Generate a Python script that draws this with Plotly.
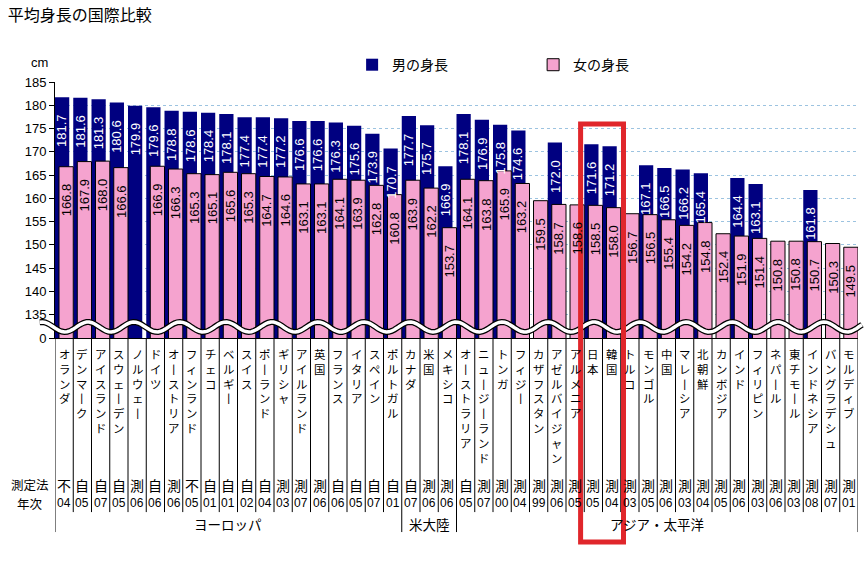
import numpy as np
import plotly.graph_objects as go

# data
countries = ["オランダ", "デンマーク", "アイスランド", "スウェーデン", "ノルウェー", "ドイツ",
             "オーストリア", "フィンランド", "チェコ", "ベルギー", "スイス", "ポーランド",
             "ギリシャ", "アイルランド", "英国", "フランス", "イタリア", "スペイン", "ポルトガル",
             "カナダ", "米国", "メキシコ",
             "オーストラリア", "ニュージーランド", "トンガ", "フィジー", "カザフスタン",
             "アゼルバイジャン", "アルメニア", "日本", "韓国", "トルコ", "モンゴル", "中国",
             "マレーシア", "北朝鮮", "カンボジア", "インド", "フィリピン", "ネパール",
             "東チモール", "インドネシア", "バングラデシュ", "モルディブ"]
male = [181.7, 181.6, 181.3, 180.6, 179.9, 179.6, 178.8, 178.6, 178.4, 178.1, 177.4, 177.4,
        177.2, 176.6, 176.6, 176.3, 175.6, 173.9, 170.7,
        177.7, 175.7, 166.9,
        178.1, 176.9, 175.8, 174.6, None, 172.0, None, 171.6, 171.2, None, 167.1, 166.5,
        166.2, 165.4, None, 164.4, 163.1, None, None, 161.8, None, None]
female = [166.8, 167.9, 168.0, 166.6, None, 166.9, 166.3, 165.3, 165.1, 165.6, 165.3, 164.7,
          164.6, 163.1, 163.1, 164.1, 163.9, 162.8, 160.8,
          163.9, 162.2, 153.7,
          164.1, 163.8, 165.9, 163.2, 159.5, 158.7, 158.6, 158.5, 158.0, 156.7, 156.5, 155.4,
          154.2, 154.8, 152.4, 151.9, 151.4, 150.8, 150.8, 150.7, 150.3, 149.5]
method = ["不", "自", "自", "自", "測", "自", "測", "不", "自", "自", "自", "自",
          "測", "測", "測", "自", "自", "自", "自",
          "自", "測", "測",
          "自", "測", "測", "測", "測", "測", "測", "測", "測", "測", "測", "測",
          "測", "測", "測", "測", "測", "測", "測", "測", "測", "測"]
years = ["04", "05", "07", "05", "06", "06", "06", "05", "01", "01", "02", "04",
         "03", "07", "06", "06", "05", "07", "01",
         "07", "06", "06",
         "05", "07", "00", "04", "99", "06", "05", "05", "04", "03", "05", "06",
         "03", "04", "05", "06", "03", "06", "03", "08", "07", "01"]
region_names = ["ヨーロッパ", "米大陸", "アジア・太平洋"]
region_sizes = [19, 3, 22]
tick_vals = [130, 135, 140, 145, 150, 155, 160, 165, 170, 175, 180, 185]
tick_text = ["0", "135", "140", "145", "150", "155", "160", "165", "170", "175", "180", "185"]
highlight = ["日本", "韓国"]

NAVY = "#000080"
PINK = "#F5A3CF"
NUMFONT = "Liberation Sans, Arial, sans-serif"
JPFONT = "Noto Sans CJK JP, sans-serif"

fig = go.Figure()

fig.add_trace(go.Bar(
    x=countries, y=male, name="男の身長",
    marker=dict(color=NAVY, line=dict(width=0)),
    width=0.78, offset=-0.5,
))
fig.add_trace(go.Bar(
    x=countries, y=female, name="女の身長",
    marker=dict(color=PINK, line=dict(width=1, color="black")),
    width=0.78, offset=-0.28,
))

# value labels, rotated, a little under each bar top
for vals, colour, shift in [(male, "white", -2), (female, "black", 2)]:
    for c, v in zip(countries, vals):
        if v is None:
            continue
        fig.add_annotation(x=c, y=v, xref="x", yref="y", text=f"{v:.1f}", textangle=-90,
                           showarrow=False, xanchor="center", yanchor="top",
                           xshift=shift, yshift=-15,
                           font=dict(family=NUMFONT, size=13, color=colour))

n = len(countries)

# vertical category labels + table rows under the axis
def vertical(s):
    return "<br>".join("丨" if ch == "ー" else ch for ch in s)

def note(x, y, text, size, family=JPFONT, xref="x", yanchor="middle"):
    fig.add_annotation(x=x, y=y, xref=xref, yref="paper", text=text, showarrow=False,
                       xanchor="center", yanchor=yanchor,
                       font=dict(family=family, size=size, color="black"))

for i, c in enumerate(countries):
    note(i, -0.022, vertical(c), 11.4, yanchor="top")
    note(i, -0.574, method[i], 14)
    note(i, -0.645, years[i], 12, family=NUMFONT)

note(-0.031, -0.574, "測定法", 12.5, xref="paper")
note(-0.031, -0.645, "年次", 12.5, xref="paper")

# table dividers
bounds = np.cumsum([0] + region_sizes)
for i in range(n + 1):
    long_line = i in bounds
    fig.add_shape(type="line", xref="x", yref="paper", x0=i - 0.5, x1=i - 0.5,
                  y0=0, y1=-0.758 if long_line else -0.68,
                  line=dict(color="black", width=1))

for name, a, b in zip(region_names, bounds[:-1], bounds[1:]):
    note((a + b - 1) / 2, -0.727, name, 13.5)

# axis break wave
xs = np.linspace(-0.019, 1.005, 300)
ys = 0.043 + 0.0195 * np.cos(2 * np.pi * (xs - 0.041) / 0.0573)
path = "M " + " L ".join(f"{x:.4f},{y:.4f}" for x, y in zip(xs, ys))
fig.add_shape(type="path", path=path, xref="paper", yref="paper",
              line=dict(color="black", width=6))
fig.add_shape(type="path", path=path, xref="paper", yref="paper",
              line=dict(color="white", width=3.5))

# highlight box
hi = [countries.index(h) for h in highlight]
fig.add_shape(type="rect", xref="x", yref="paper",
              x0=min(hi) - 0.7, x1=max(hi) + 0.65, y0=-0.797, y1=0.836,
              line=dict(color="#E0262B", width=5))

note(-0.019, 1.078, "cm", 13, family=NUMFONT, xref="paper")

fig.update_layout(
    width=867, height=563,
    margin=dict(l=55, r=9, t=82, b=225),
    title=dict(text="平均身長の国際比較", x=0.009, xanchor="left", y=0.973, yanchor="middle",
               font=dict(family=JPFONT, size=16, color="black")),
    barmode="overlay",
    plot_bgcolor="white", paper_bgcolor="white",
    showlegend=True,
    legend=dict(orientation="h", x=0.37, y=1.066, xanchor="left", yanchor="middle",
                entrywidth=136, entrywidthmode="pixels",
                font=dict(family=JPFONT, size=14, color="black")),
    xaxis=dict(range=[-0.5, n - 0.5], showticklabels=False, showgrid=False,
               showline=True, linecolor="black", linewidth=1, ticks="", zeroline=False),
    yaxis=dict(range=[130, 185], tickvals=tick_vals, ticktext=tick_text,
               showline=True, linecolor="black", linewidth=1, ticks="outside",
               ticklen=5, tickcolor="black",
               showgrid=True, gridcolor="#9CC3E0", griddash="dot", gridwidth=1,
               zeroline=False,
               tickfont=dict(family=NUMFONT, size=13, color="black")),
)

fig.write_html("out.html", config={"displayModeBar": False},
               post_script="document.body.style.margin='0';document.body.style.overflow='hidden';")
